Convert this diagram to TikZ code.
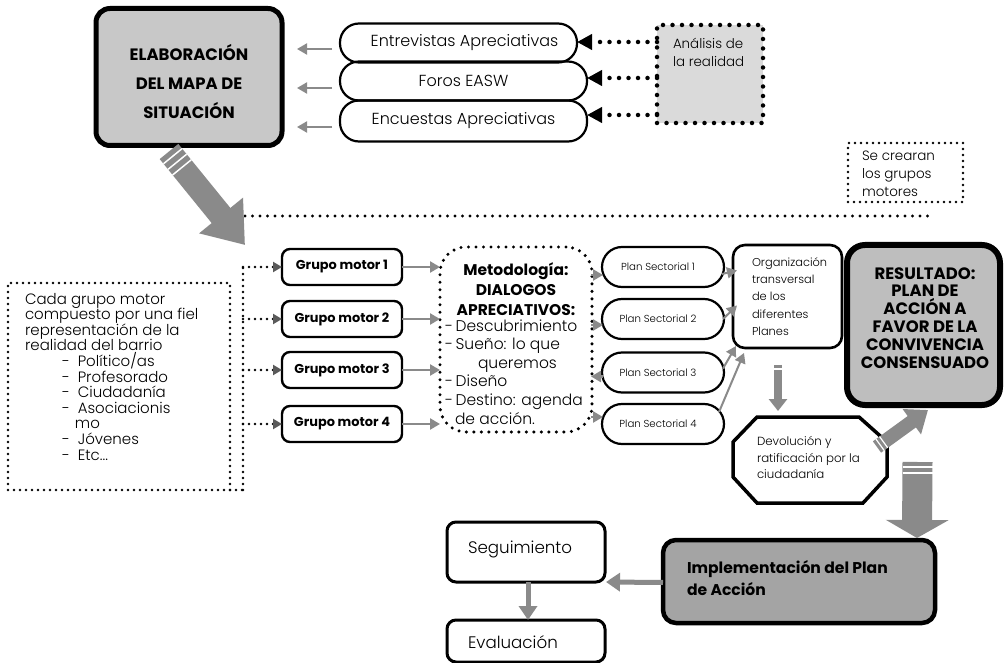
\documentclass[tikz,border=0pt]{standalone}
\usepackage{fontspec}
\setmainfont{Poppins}[UprightFont={* Light},BoldFont={* Bold}]
\usetikzlibrary{arrows.meta,calc}
\definecolor{arrowgray}{HTML}{8A8A8A}
\definecolor{darkhead}{HTML}{5A5A5A}
\definecolor{mapfill}{HTML}{C8C8C8}
\definecolor{anafill}{HTML}{DADADA}
\definecolor{resfill}{HTML}{BEBEBE}
\definecolor{impfill}{HTML}{A4A4A4}
\newcommand{\fsz}[2]{\fontsize{#1}{#2}\selectfont}
\begin{document}
\begin{tikzpicture}[x=1pt,y=-1pt,
  every node/.style={inner sep=0pt,outer sep=0pt},
  solidbox/.style={draw,line width=2.4pt,rounded corners=8pt},
  pill/.style={draw,line width=2.2pt,rounded corners=19pt},
  bigdots/.style={line width=4.5pt,line cap=round,dash pattern=on 0pt off 9.5pt},
  meddots/.style={line width=3.4pt,line cap=round,dash pattern=on 0pt off 7.5pt},
  smalldots/.style={line width=2.8pt,line cap=round,dash pattern=on 0pt off 6pt},
  garrow/.style={draw=arrowgray,line width=2.6pt,-{Triangle[length=10pt,width=11pt]}},
  stripe/.style={draw=white,line width=1.5pt},
]
\useasboundingbox (0,0) rectangle (1005,663);
\fill[white] (0,0) rectangle (1005,663);

% --- situation map and its sources
\node[solidbox,line width=5pt,rounded corners=14pt,fill=mapfill,minimum width=186pt,minimum height=137pt] (mapa) at (189,77) {};
\node[font=\bfseries\fsz{16.5}{29},align=center,anchor=base] (mapatxt) at (189,119) {ELABORACIÓN\\DEL MAPA DE\\SITUACIÓN};

\node[pill,minimum width=237pt,minimum height=39pt,font=\fsz{16}{18}] (ov1) at (458.5,43) {\hspace*{12pt}Entrevistas Apreciativas};
\node[pill,minimum width=247pt,minimum height=39pt,font=\fsz{16}{18}] (ov2) at (463.5,81) {Foros EASW};
\node[pill,minimum width=247pt,minimum height=41pt,font=\fsz{16}{18}] (ov3) at (463.5,121) {Encuestas Apreciativas};

\draw[garrow,line width=2pt] ($(ov1.west)+(-8,6)$) -- ($(mapa.east)+(15,-28)$);
\draw[garrow,line width=2pt] ($(ov2.west)+(-8,7)$) -- ($(mapa.east)+(15,11)$);
\draw[garrow,line width=2pt] ($(ov3.west)+(-8,6)$) -- ($(mapa.east)+(15,50)$);

\node[bigdots,draw,fill=anafill,minimum width=106pt,minimum height=98pt] (ana) at (710,74) {};
\node[font=\fsz{13.4}{18},align=left,anchor=base west] (anatxt) at (673,67) {Análisis de\\la realidad};

\draw[bigdots,-{Triangle[length=15pt,width=15pt]}] ($(ana.west)+(0,-32)$) -- ($(ov1.east)+(0,-1)$);
\draw[bigdots,-{Triangle[length=15pt,width=15pt]}] ($(ana.west)+(0,4)$) -- ($(ov2.east)+(0,-3)$);
\draw[bigdots,-{Triangle[length=15pt,width=15pt]}] ($(ana.west)+(0,41)$) -- ($(ov3.east)+(0,-6)$);

% --- note and separator
\node[smalldots,draw,minimum width=115pt,minimum height=59pt] (crear) at (905.5,172.5) {};
\node[font=\fsz{13.5}{18},align=left,anchor=base west] (creartxt) at (862,197) {Se crearan\\los grupos\\motores};

\coordinate (dlA) at (245,216);
\coordinate (dlB) at (935,216);
\draw[meddots] (dlA) -- (dlB);

% --- big arrow towards the groups
\coordinate (dt) at ($(mapa.south)+(-20,6)$);
\coordinate (dh) at (245,245);
\draw[draw=arrowgray,line width=24pt,-{Triangle[length=38pt,width=54pt]}] (dt) -- (dh);
\foreach \k in {0.05,0.11,0.17} {
  \coordinate (sk) at ($(dt)!\k!(dh)$);
  \draw[stripe] ($(sk)!12pt!90:(dh)$) -- ($(sk)!12pt!-90:(dh)$);
}

% --- composition of the groups
\node[smalldots,draw,minimum width=222pt,minimum height=207pt] (cada) at (119,386.5) {};
\coordinate (vtop) at (243,268);
\coordinate (vbot) at (243,490);
\draw[smalldots] (vtop) -- (vbot);
\draw[smalldots] (cada.south east) -- (vbot);
\node[font=\fsz{15}{15.6},align=left,anchor=base west] (cadatxt) at (25,460) {Cada grupo motor\\compuesto por una fiel\\representación de la\\realidad del barrio\\\hspace*{37pt}-\hspace{8pt}Político/as\\\hspace*{37pt}-\hspace{8pt}Profesorado\\\hspace*{37pt}-\hspace{8pt}Ciudadanía\\\hspace*{37pt}-\hspace{8pt}Asociacionis\\\hspace*{50pt}mo\\\hspace*{37pt}-\hspace{8pt}Jóvenes\\\hspace*{37pt}-\hspace{8pt}Etc...};

% --- methodology
\node[meddots,draw,rounded corners=26pt,minimum width=152pt,minimum height=185pt] (meto) at (516,339.5) {};
\node[font=\bfseries\fsz{15.5}{20},align=center,anchor=base] (metotitle) at (516,316) {Metodología:\\DIALOGOS\\APRECIATIVOS:};
\node[font=\fsz{15.5}{18.6},align=left,anchor=base west] (metoitems) at (445,424) {-\,Descubrimiento\\-\,Sueño: lo que\\\hspace*{33pt}queremos\\-\,Diseño\\-\,Destino: agenda\\\hspace*{10pt}de acción.};

\foreach \i/\y in {1/267,2/319,3/370,4/424} {
  \node[solidbox,minimum width=120pt,minimum height=36pt,font=\bfseries\fsz{12.9}{14}] (g\i) at (342,\y) {Grupo motor \i};
  \draw[smalldots,-{Triangle[length=9pt,width=10pt,color=darkhead]}] (vtop |- g\i.west) -- (g\i.west);
  \draw[garrow] (g\i.east) -- (g\i.east -| meto.west);
}

% --- sector plans
\foreach \i/\y in {1/267,2/319,3/372.5,4/424} {
  \node[pill,minimum width=122pt,minimum height=40pt,rounded corners=20pt,font=\fsz{10.2}{12}] (ps\i) at (663,\y) {\hspace*{-10pt}Plan Sectorial \i};
}
\draw[garrow] ($(ps1.west)+(-11,8)$) -- ($(ps1.west)+(1,8)$);
\draw[garrow] ($(ps2.west)+(-11,6)$) -- ($(ps2.west)+(1,6)$);
\draw[garrow] ($(ps3.west)+(1,4)$) -- ($(ps3.west)+(-11,4)$);
\draw[garrow] ($(ps4.west)+(-11,-7)$) -- ($(ps4.west)+(1,-7)$);

\node[solidbox,line width=2.6pt,rounded corners=12pt,minimum width=109pt,minimum height=103pt] (org) at (787.5,296.5) {};
\node[font=\fsz{11.4}{17.2},align=left,anchor=base west] (orgtxt) at (752,335.3) {Organización\\transversal\\de los\\diferentes\\Planes};

\draw[garrow,line width=2pt] ($(ps1.east)+(-2,7)$) -- ($(org.west)+(4,-26)$);
\draw[garrow,line width=2pt] ($(ps2.east)+(-1,0)$) -- ($(org.west)+(4,9)$);
\draw[garrow,line width=2pt] ($(ps3.east)+(-1,-4)$) -- ($(org.south west)+(3,-2)$);
\draw[garrow,line width=2pt] ($(ps4.east)+(-5,-12)$) -- ($(org.south west)+(11,5)$);

% --- return to the citizens
\node[minimum width=154pt,minimum height=86pt] (devol) at (810,460) {};
\draw[line width=3.5pt,line join=miter]
  ($(devol.north west)+(24,0)$) -- ($(devol.north east)+(-28,0)$) -- ($(devol.north east)+(0,25)$)
  -- ($(devol.south east)+(0,-26)$) -- ($(devol.south east)+(-24,0)$) -- ($(devol.south west)+(24,0)$)
  -- ($(devol.south west)+(0,-26)$) -- ($(devol.north west)+(0,25)$) -- cycle;
\node[font=\fsz{11.8}{16.5},align=left,anchor=base west] (devtxt) at (757,478.5) {Devolución y\\ratificación por la\\ciudadanía};

\draw[draw=arrowgray,line width=8pt,-{Triangle[length=12pt,width=18pt]}] ($(org.south)+(-9.5,17)$) -- ($(devol.north)+(-32,-6)$);
\draw[stripe] ($(org.south)+(-14,21)$) -- ($(org.south)+(-5,21)$);

% --- result
\node[solidbox,line width=6pt,rounded corners=18pt,fill=resfill,minimum width=153pt,minimum height=160pt] (res) at (923.5,325) {};
\node[font=\bfseries\fsz{16.5}{17.8},align=center,anchor=base] (restxt) at (925,368) {RESULTADO:\\PLAN DE\\ACCIÓN A\\FAVOR DE LA\\CONVIVENCIA\\CONSENSUADO};

\coordinate (dvA) at ($(devol.east)+(-10,-13)$);
\coordinate (dvB) at ($(res.south)+(4.5,5)$);
\draw[draw=arrowgray,line width=14pt,-{Triangle[length=20pt,width=30pt]}] (dvA) -- (dvB);
\foreach \k in {0.06,0.13} {
  \coordinate (sv) at ($(dvA)!\k!(dvB)$);
  \draw[stripe,line width=1.2pt] ($(sv)!7pt!90:(dvB)$) -- ($(sv)!7pt!-90:(dvB)$);
}

% --- implementation and follow-up
\node[solidbox,line width=4.5pt,rounded corners=13pt,fill=impfill,minimum width=272pt,minimum height=83pt] (impl) at (799,581.5) {};
\node[font=\bfseries\fsz{15.6}{22},align=left,anchor=base west] (impltxt) at (687,595) {Implementación del Plan\\de Acción};

\coordinate (rdA) at ($(res.south)+(-6,57)$);
\coordinate (rdB) at ($(impl.north east)+(-18,-2)$);
\draw[draw=arrowgray,line width=30pt,-{Triangle[length=18pt,width=62pt]}] (rdA) -- (rdB);
\draw[stripe] ($(rdA)+(-15,5)$) -- ($(rdA)+(15,5)$);
\draw[stripe] ($(rdA)+(-15,11)$) -- ($(rdA)+(15,11)$);

\node[solidbox,line width=3pt,rounded corners=9pt,minimum width=158pt,minimum height=60pt] (seg) at (526,552) {};
\node[font=\fsz{16.7}{20},anchor=base west] (segtxt) at (468,553) {Seguimiento};
\node[solidbox,line width=3pt,rounded corners=9pt,minimum width=158pt,minimum height=42pt] (eval) at (526,641) {};
\node[font=\fsz{16.7}{20},anchor=base west] (evaltxt) at (468,648) {Evaluación};

\draw[draw=arrowgray,line width=5pt,-{Triangle[length=14pt,width=18pt]}] ($(impl.west)+(0,1)$) -- ($(seg.south east)+(1,0)$);
\draw[draw=arrowgray,line width=5pt,-{Triangle[length=14pt,width=18pt]}] ($(seg.south)+(2,0)$) -- ($(eval.north)+(2,0)$);
\end{tikzpicture}
\end{document}
